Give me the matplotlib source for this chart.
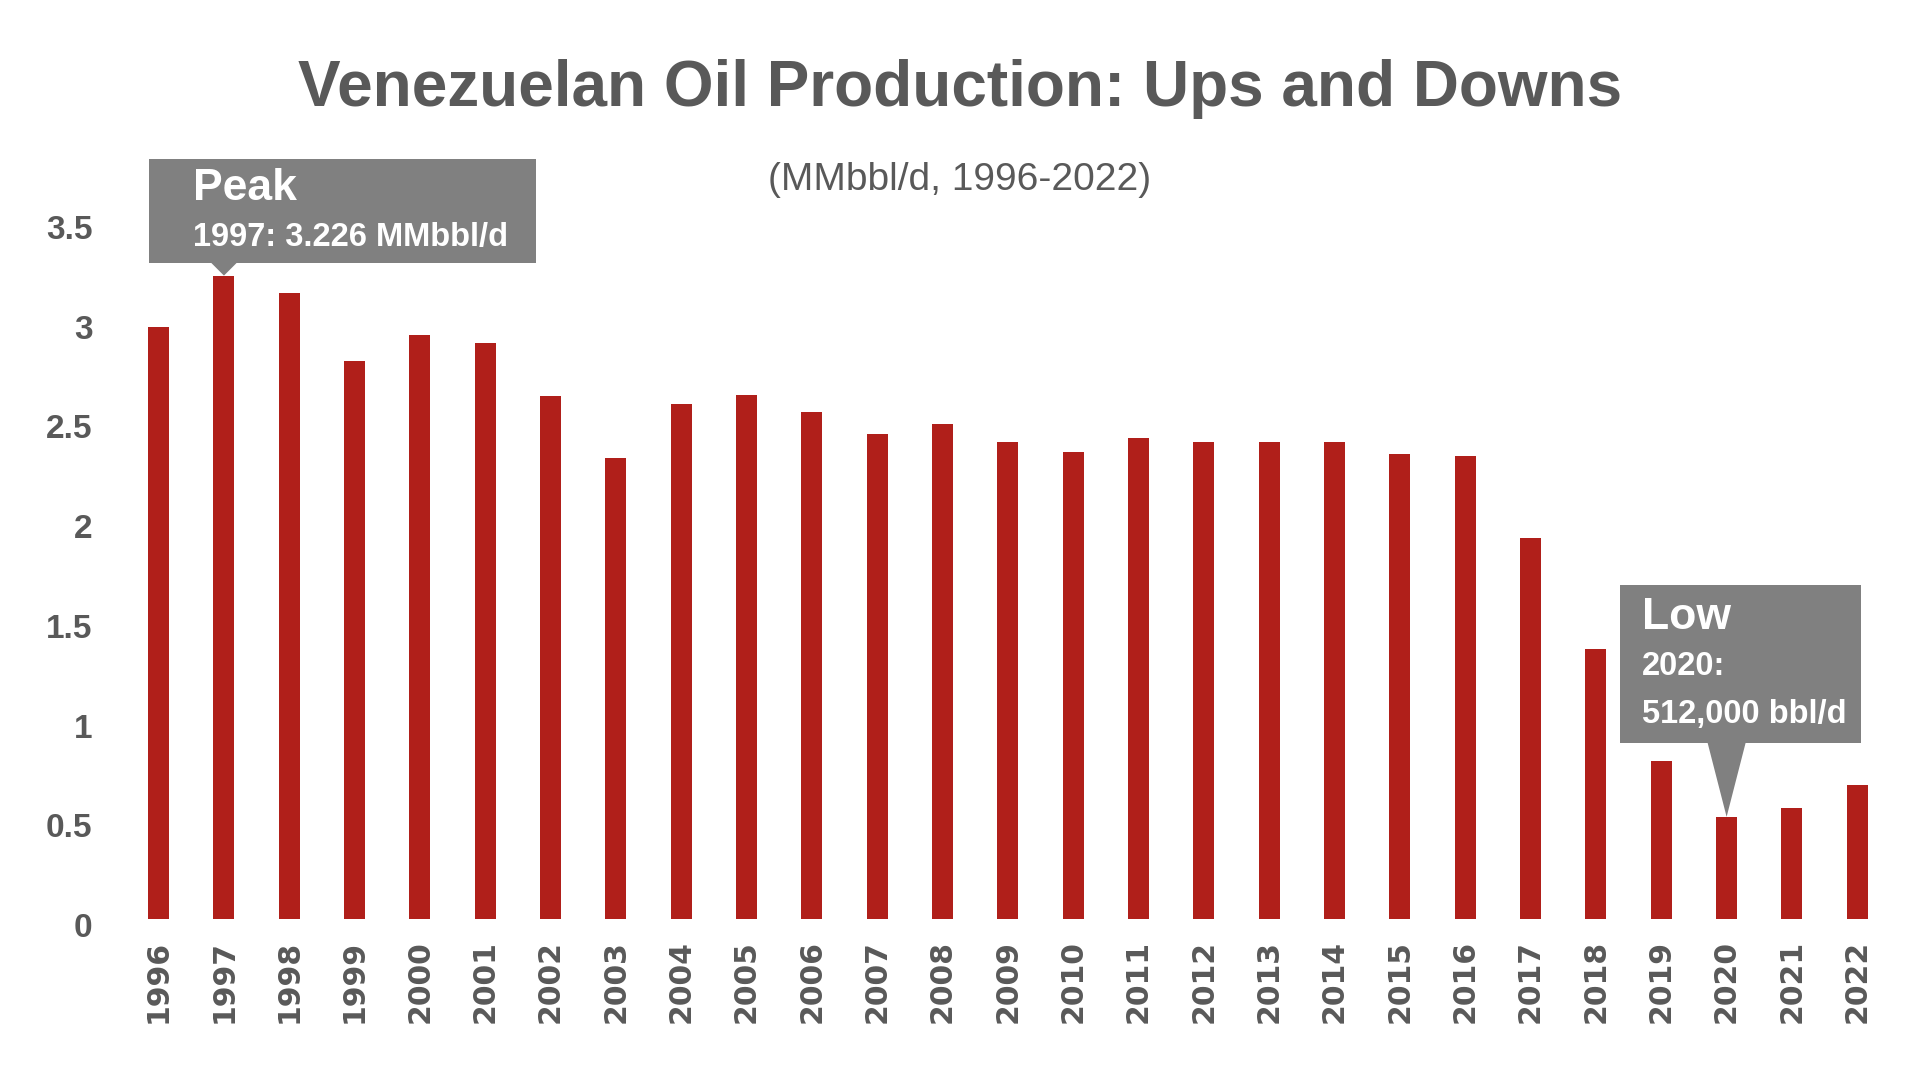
import matplotlib
matplotlib.use("Agg")
import matplotlib.pyplot as plt
import matplotlib.transforms as mtrans
from matplotlib import font_manager
from matplotlib.patches import Polygon

years = list(range(1996, 2023))
production = [2.97, 3.226, 3.14, 2.80, 2.93, 2.89, 2.62, 2.31, 2.58, 2.625,
              2.54, 2.43, 2.48, 2.39, 2.34, 2.41, 2.39, 2.39, 2.39, 2.33,
              2.32, 1.91, 1.355, 0.79, 0.512, 0.556, 0.672]
yticks = [0, 0.5, 1, 1.5, 2, 2.5, 3, 3.5]
ytick_labels = ["0", "0.5", "1", "1.5", "2", "2.5", "3", "3.5"]

peak_year, low_year = 1997, 2020

INK = "#595959"
BAR = "#B01F1A"
BOX = "#808080"

names = {f.name for f in font_manager.fontManager.ttflist}
NARROW = "Liberation Sans Narrow" in names
SANS = ["Liberation Sans", "DejaVu Sans"]

fig = plt.figure(figsize=(19.2, 10.8), dpi=100)
ax = fig.add_axes([0.0656, 0.1491, 0.91875, 0.6463])

x = list(range(len(years)))
ax.bar(x, production, width=0.32, color=BAR)
ax.set_xlim(-0.5, len(years) - 0.5)
ax.set_ylim(0, 3.5)
ax.set_xticks(x)
ax.set_xticklabels([str(y) for y in years], rotation=90, fontsize=21.5,
                   fontweight="bold", color=INK, family="DejaVu Sans")
ax.set_yticks(yticks)
ax.set_yticklabels(ytick_labels, fontsize=24, fontweight="bold", color=INK, family=SANS)
ax.tick_params(axis="x", length=0, pad=15)
ax.tick_params(axis="y", length=0, pad=24)
shift = mtrans.ScaledTranslation(0, -0.06, fig.dpi_scale_trans)
for lab in ax.get_yticklabels():
    lab.set_transform(lab.get_transform() + shift)
for s in ax.spines.values():
    s.set_visible(False)

# title / subtitle
if NARROW:
    fig.text(0.5, 1 - 89 / 1080, "Venezuelan Oil Production: Ups and Downs", ha="center",
             va="center", fontsize=56, fontweight="bold", color=INK,
             family=["Liberation Sans Narrow", "Liberation Sans"])
else:
    fig.text(0.5, 1 - 89 / 1080, "Venezuelan Oil Production: Ups and Downs", ha="center",
             va="center", fontsize=46, fontweight="bold", color=INK, family=SANS)
fig.text(0.5, 1 - 180 / 1080, "(MMbbl/d, 1996-2022)", ha="center", va="center",
         fontsize=28, color=INK, family=SANS)


def callout(year, box, tri_h, tri_w, lines):
    """box = (left, right, bottom, top) in px relative to the bar top."""
    i = years.index(year)
    trans = fig.dpi_scale_trans + mtrans.ScaledTranslation(i, production[i], ax.transData)
    l, r, b, t = [v / 100 for v in box]
    ax.add_patch(Polygon([(l, b), (r, b), (r, t), (l, t)], closed=True, facecolor=BOX,
                         edgecolor="none", transform=trans, clip_on=False, zorder=5))
    hw = tri_w / 200
    ax.add_patch(Polygon([(-hw, tri_h / 100), (hw, tri_h / 100), (0, 0)], closed=True,
                         facecolor=BOX, edgecolor="none", transform=trans, clip_on=False,
                         zorder=5))
    for dx, dy, txt, size in lines:
        ax.text(dx / 100, dy / 100, txt, transform=trans, ha="left", va="center",
                fontsize=size, fontweight="bold", color="white", family=SANS, zorder=6,
                clip_on=False)


callout(peak_year, (-75, 312, 13, 117), 13, 26,
        [(-31, 87, "Peak", 32), (-31, 38, "1997: 3.226 MMbbl/d", 23.5)])
callout(low_year, (-107, 134, 74, 232), 74, 38,
        [(-85, 199, "Low", 32), (-85, 150, "2020:", 23.5), (-85, 102, "512,000 bbl/d", 23.5)])

fig.savefig("out.png", dpi=100, facecolor="white")
